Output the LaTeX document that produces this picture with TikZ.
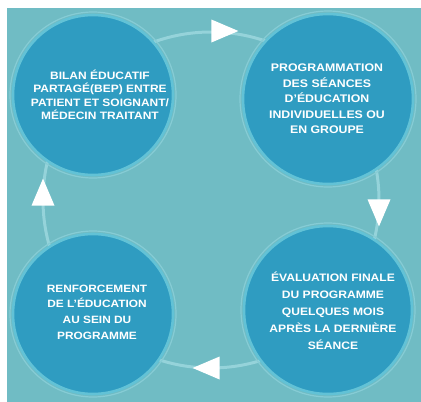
\documentclass[tikz,border=0pt]{standalone}
\usepackage{fontspec}
\setmainfont{Liberation Sans}
\newfontfamily\lbl[FakeStretch=1.12]{Liberation Sans}
\usetikzlibrary{shapes.geometric}
\definecolor{panel}{HTML}{70BCC4}
\definecolor{disk}{HTML}{2F9CC1}
\definecolor{rim}{HTML}{62C2D6}
\definecolor{halo}{HTML}{86CCD5}
\definecolor{ringc}{HTML}{95D3DA}
\tikzset{
  stage/.style={circle, fill=disk, draw=rim, line width=2.6pt, inner sep=0pt},
  txt/.style={text=white, align=center, inner sep=0pt},
  tri/.style={isosceles triangle, isosceles triangle stretches, fill=white, inner sep=0pt,
              minimum height=27pt, minimum width=23pt},
}
\begin{document}
\begin{tikzpicture}[x=1pt,y=-1pt]
\useasboundingbox (0,0) rectangle (421,402);
\fill[white] (0,0) rectangle (421,402);
\fill[panel] (7,8) rectangle (421,402);
% cycle ring
\coordinate (ctr) at (211,200);
\draw[ringc, line width=3pt] (ctr) circle [radius=168pt];
% stages
\foreach \n/\x/\y/\r/\h/\d in {tl/93/95/80/83pt/160pt, tr/328/99/85/88pt/170pt, br/328/310/84/87pt/168pt, bl/93/314/80/83pt/160pt}{
  \draw[halo, line width=1.2pt] (\x,\y) circle [radius=\h];
  \node[stage, minimum size=\d] (\n) at (\x,\y) {};
}
\node[txt, font=\lbl\bfseries\fontsize{10.7}{13.4}\selectfont] (tltext) at (100,95)
  {\MakeUppercase{Bilan éducatif}\\\MakeUppercase{Partagé(BEP) entre}\\\MakeUppercase{Patient et soignant/}\\\MakeUppercase{Médecin traitant}};
\node[txt, font=\lbl\bfseries\fontsize{11}{15.5}\selectfont] (trtext) at (327,99)
  {\MakeUppercase{Programmation}\\\MakeUppercase{des séances}\\\MakeUppercase{d’éducation}\\\MakeUppercase{individuelles ou}\\\MakeUppercase{en groupe}};
\node[txt, font=\lbl\bfseries\fontsize{10.8}{17}\selectfont] (brtext) at (333,311)
  {\MakeUppercase{Évaluation finale}\\\MakeUppercase{du programme}\\\MakeUppercase{quelques mois}\\\MakeUppercase{après la dernière}\\\MakeUppercase{séance}};
\node[txt, font=\lbl\bfseries\fontsize{10.6}{15.7}\selectfont] (bltext) at (97,312)
  {\MakeUppercase{Renforcement}\\\MakeUppercase{de l’éducation}\\\MakeUppercase{au sein du}\\\MakeUppercase{programme}};
% arrowheads on the ring
\node[tri, shape border rotate=0] (atop) at (219,31) {};
\node[tri, shape border rotate=270] (aright) at (379,207) {};
\node[tri, shape border rotate=180] (abottom) at (212,368) {};
\node[tri, shape border rotate=90] (aleft) at (43,198) {};
\end{tikzpicture}
\end{document}
